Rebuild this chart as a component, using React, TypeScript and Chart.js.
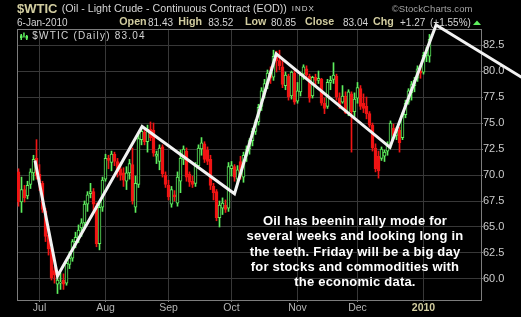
import React, { useEffect, useRef } from "react";
import { Chart, registerables } from "chart.js";

Chart.register(...registerables);

// Daily OHLC for $WTIC, 22-Jun-2009 .. 6-Jan-2010 (trading-day index 0..137)
const opens = [
  70.3, 67.4, 68.6, 68.0, 69.1, 70.2, 71.6, 70.1, 69.2, 66.5,
  64.2, 63.0, 60.8, 59.5, 59.6, 59.9, 59.6, 61.4, 62.0, 63.6,
  64.0, 64.9, 65.4, 67.2, 68.2, 68.4, 67.0, 63.4, 66.9, 69.6,
  71.6, 71.2, 72.0, 71.3, 70.6, 70.2, 69.4, 70.2, 71.0, 66.9,
  69.1, 73.4, 74.1, 73.2, 74.4, 74.3, 71.8, 71.3, 72.7, 70.0,
  69.0, 67.2, 68.1, 67.3, 69.4, 71.5, 72.3, 70.1, 69.4, 69.2,
  70.9, 72.5, 73.0, 72.4, 71.5, 68.9, 68.4, 65.9, 66.8, 67.1,
  66.8, 70.6, 70.8, 69.6, 71.3, 69.8, 71.8, 72.5, 73.3, 74.2,
  75.1, 76.6, 78.0, 78.9, 79.8, 79.4, 81.5, 81.0, 80.4, 78.6,
  79.5, 77.6, 79.8, 77.1, 78.0, 79.7, 80.2, 79.5, 77.6, 79.4,
  79.1, 79.2, 76.9, 76.6, 78.9, 79.2, 79.5, 77.4, 77.0, 77.6,
  76.0, 77.8, 76.1, 77.4, 78.3, 76.9, 76.6, 75.9, 74.8, 72.6,
  71.8, 71.6, 71.8, 72.3, 72.8, 74.5, 73.8, 74.3, 73.6, 75.8,
  77.0, 77.9, 78.6, 79.3, 80.0, 79.9, 81.5, 81.43,
];
const highs = [
  70.6, 69.8, 69.0, 69.4, 70.6, 71.9, 73.4, 71.0, 69.4, 66.8,
  64.6, 63.2, 61.2, 60.4, 60.6, 60.5, 61.9, 62.6, 63.8, 64.5,
  65.2, 65.8, 67.5, 68.4, 69.2, 68.7, 67.3, 67.3, 69.8, 72.0,
  71.9, 72.3, 72.2, 71.6, 71.2, 70.7, 70.8, 71.5, 72.6, 69.9,
  73.9, 74.6, 74.5, 74.8, 75.1, 75.0, 72.3, 72.9, 72.9, 70.3,
  69.5, 68.9, 68.5, 70.3, 72.4, 72.8, 72.6, 70.3, 69.9, 71.2,
  72.9, 73.6, 73.2, 72.7, 71.9, 69.2, 68.6, 67.5, 67.8, 67.6,
  71.2, 71.3, 71.0, 70.9, 71.8, 72.2, 72.8, 73.5, 74.5, 75.3,
  76.8, 78.4, 79.2, 80.1, 80.4, 82.0, 81.9, 82.0, 81.1, 79.9,
  79.7, 80.0, 80.1, 78.9, 79.8, 80.6, 80.5, 79.7, 79.5, 79.7,
  80.0, 79.3, 77.4, 79.2, 79.5, 80.8, 79.7, 77.9, 78.6, 78.0,
  78.2, 78.0, 77.9, 78.9, 78.6, 77.8, 77.5, 76.1, 75.0, 73.0,
  72.3, 72.7, 72.4, 73.2, 75.2, 74.9, 74.6, 74.6, 76.0, 77.2,
  78.3, 79.0, 79.4, 80.5, 80.6, 81.8, 82.3, 83.52,
];
const lows = [
  67.0, 66.4, 67.4, 67.7, 68.7, 69.5, 69.6, 68.5, 66.4, 63.6,
  62.3, 59.9, 59.6, 58.6, 59.0, 59.0, 59.4, 61.0, 61.7, 63.0,
  63.5, 64.1, 64.9, 66.5, 67.8, 66.6, 63.1, 62.8, 66.5, 69.4,
  70.6, 70.4, 70.9, 69.8, 69.5, 68.9, 68.6, 69.6, 67.2, 66.4,
  68.8, 72.9, 72.9, 72.2, 73.3, 71.8, 71.1, 70.5, 69.8, 68.8,
  67.6, 66.9, 67.5, 67.0, 68.3, 71.0, 69.4, 68.9, 68.8, 68.9,
  70.6, 71.9, 71.2, 71.0, 68.6, 67.6, 65.6, 65.0, 66.2, 66.4,
  66.5, 69.9, 69.4, 69.2, 69.6, 69.3, 71.3, 72.0, 72.8, 73.9,
  74.8, 76.2, 77.4, 78.3, 78.8, 79.1, 79.9, 80.1, 78.4, 78.2,
  77.2, 77.3, 76.8, 76.9, 77.6, 79.2, 79.3, 77.0, 77.4, 78.6,
  78.8, 76.7, 75.9, 76.4, 78.2, 78.8, 77.2, 76.4, 76.9, 75.9,
  75.7, 72.2, 75.6, 76.9, 76.3, 76.0, 75.4, 74.6, 72.3, 70.3,
  69.7, 71.4, 71.3, 71.9, 72.6, 73.5, 73.4, 72.2, 73.4, 75.5,
  76.8, 77.2, 78.0, 79.0, 79.3, 79.7, 80.9, 80.85,
];
const closes = [
  67.4, 68.6, 67.8, 69.0, 70.3, 71.5, 69.9, 69.3, 66.7, 64.1,
  62.9, 60.1, 60.4, 59.9, 59.7, 59.5, 61.5, 62.0, 63.6, 64.0,
  64.7, 65.4, 67.2, 68.1, 68.4, 67.2, 63.4, 66.9, 69.5, 71.6,
  71.4, 72.0, 71.3, 70.3, 70.0, 69.5, 70.2, 71.1, 67.5, 69.2,
  73.5, 74.2, 73.2, 74.4, 73.6, 72.1, 72.0, 72.6, 70.1, 69.1,
  67.9, 68.6, 67.9, 69.8, 71.6, 72.5, 69.8, 69.3, 69.1, 70.9,
  72.6, 73.1, 71.5, 71.3, 69.0, 68.3, 65.9, 67.1, 67.3, 66.7,
  70.8, 70.9, 69.8, 70.5, 69.9, 71.9, 72.5, 73.3, 74.2, 75.1,
  76.5, 78.1, 78.8, 79.8, 79.3, 81.4, 81.0, 80.5, 78.7, 79.6,
  77.5, 79.9, 77.0, 78.1, 79.6, 80.4, 79.6, 77.4, 79.4, 79.1,
  79.3, 76.9, 76.4, 78.9, 79.1, 79.6, 77.5, 76.7, 77.6, 76.0,
  78.0, 76.1, 77.3, 78.4, 76.6, 76.4, 75.9, 74.8, 72.6, 70.6,
  70.4, 72.5, 72.2, 72.9, 75.0, 73.8, 74.4, 73.1, 75.8, 76.9,
  78.1, 78.7, 79.1, 80.2, 79.8, 81.5, 81.77, 83.04,
];

const monthTickIndex = [7, 29, 50, 71, 93, 113, 135];
const monthTickLabels = ["Jul", "Aug", "Sep", "Oct", "Nov", "Dec", "2010"];
const yTickValues = [60, 62.5, 65, 67.5, 70, 72.5, 75, 77.5, 80, 82.5];

// hand-drawn trend line vertices (trading-day index, price)
const trendIndex = [5.5, 13, 41.2, 72, 85.9, 123.8, 139.2, 167.7];
const trendValue = [71.4, 60.3, 74.67, 68.2, 81.64, 72.66, 84.42, 79.4];

const annotationLines = [
  "Oil has beenin rally mode for",
  "several weeks and looking long in",
  "the teeth. Friday will be a big day",
  "for stocks and commodities with",
  "the economic data.",
];

const quoteLabels = ["Open", "High", "Low", "Close", "Chg"];
const quoteValues = ["81.43", "83.52", "80.85", "83.04", "+1.27"];

const FONT = '"Liberation Sans", Arial, sans-serif';
const GREEN = "#5ef05e";
const RED = "#f01414";
const KHAKI = "#d2cda0";
const LIGHT = "#d4d4d4";

function T(props: {
  x: number;
  b: number;
  size: number;
  bold?: boolean;
  color: string;
  ls?: number;
  children: React.ReactNode;
}) {
  const { x, b, size, bold, color, ls, children } = props;
  return (
    <div
      style={{
        position: "absolute",
        left: x,
        top: b - 0.905 * size,
        fontFamily: FONT,
        fontSize: size,
        fontWeight: bold ? 700 : 400,
        color,
        lineHeight: `${1.117 * size}px`,
        whiteSpace: "nowrap",
        letterSpacing: ls ? `${ls}px` : undefined,
      }}
    >
      {children}
    </div>
  );
}

export default function App() {
  const ref = useRef<HTMLCanvasElement>(null);

  useEffect(() => {
    const canvas = ref.current;
    if (!canvas) return;
    const idx = closes.map((_, i) => i);
    const up = idx.map((i) => closes[i] >= opens[i]);

    const frame = {
      id: "frame",
      beforeDatasetsDraw(chart: any) {
        const { ctx, chartArea: a } = chart;
        ctx.save();
        ctx.strokeStyle = "#7c7c7c";
        ctx.lineWidth = 1;
        ctx.strokeRect(a.left + 0.5, a.top + 0.5, a.right - a.left, a.bottom - a.top);
        ctx.restore();
      },
    };

    const chart = new Chart(canvas, {
      type: "bar",
      data: {
        datasets: [
          {
            type: "line",
            data: trendIndex.map((x, k) => ({ x, y: trendValue[k] })),
            borderColor: "#f2f2f2",
            borderWidth: 3,
            pointRadius: 0,
            tension: 0,
            clip: false,
            order: 0,
          } as any,
          {
            type: "bar",
            data: idx.map((i) => ({ x: i, y: [opens[i], closes[i]] })),
            backgroundColor: idx.map((i) => (up[i] ? "#000000" : RED)),
            borderColor: idx.map((i) => (up[i] ? GREEN : RED)),
            borderWidth: 1,
            borderSkipped: false,
            barThickness: 3,
            minBarLength: 1,
            grouped: false,
            order: 1,
          } as any,
          {
            type: "bar",
            data: idx.map((i) => ({ x: i, y: [lows[i], highs[i]] })),
            backgroundColor: idx.map((i) => (up[i] ? GREEN : RED)),
            borderWidth: 0,
            barThickness: 1,
            grouped: false,
            order: 2,
          } as any,
        ],
      },
      options: {
        responsive: false,
        animation: false,
        devicePixelRatio: 1,
        events: [],
        layout: { padding: { left: 17, top: 29, right: 0, bottom: 0 } },
        plugins: { legend: { display: false }, tooltip: { enabled: false } },
        scales: {
          x: {
            type: "linear",
            min: -0.5,
            max: 154.1667,
            bounds: "data",
            offset: false,
            afterBuildTicks: (s: any) => {
              s.ticks = monthTickIndex.map((v) => ({ value: v }));
            },
            afterFit: (s: any) => {
              s.height = 17;
            },
            grid: { color: "#383838", tickColor: "#7c7c7c", tickLength: 2, offset: false },
            border: { display: false },
            ticks: {
              autoSkip: false,
              maxRotation: 0,
              padding: 0,
              callback: (v: any) => {
                const k = monthTickIndex.indexOf(Number(v));
                return k >= 0 ? monthTickLabels[k] : "";
              },
              color: (c: any) => (c.tick && c.tick.value === 135 ? KHAKI : "#b4b4b4"),
              font: (c: any) =>
                c.tick && c.tick.value === 135
                  ? { family: FONT, size: 10.5, weight: "bold" }
                  : { family: FONT, size: 10.5 },
            },
          } as any,
          y: {
            type: "linear",
            position: "right",
            min: 57.98,
            max: 84.04,
            bounds: "data",
            afterBuildTicks: (s: any) => {
              s.ticks = yTickValues.map((v) => ({ value: v }));
            },
            afterFit: (s: any) => {
              s.width = 40;
            },
            grid: { color: "#383838", tickColor: "#7c7c7c", tickLength: 2 },
            border: { display: false },
            ticks: {
              autoSkip: false,
              padding: 0,
              callback: (v: any) => Number(v).toFixed(1),
              color: "#cccccc",
              font: { family: FONT, size: 11 },
            },
          } as any,
        },
      },
      plugins: [frame],
    } as any);

    return () => chart.destroy();
  }, []);

  const labelX = [119.3, 178.3, 245, 305, 373];
  const valueX = [148, 208.3, 271, 343, 400];

  return (
    <div
      style={{
        position: "fixed",
        left: 0,
        top: 0,
        width: 521,
        height: 317,
        background: "#000",
        overflow: "hidden",
      }}
    >
      <canvas ref={ref} width={521} height={317} style={{ position: "absolute", left: 0, top: 0 }} />

      <T x={17} b={13.4} size={13} bold color={KHAKI}>$WTIC</T>
      <T x={61.7} b={12.8} size={10.7} color={LIGHT}>(Oil - Light Crude - Continuous Contract (EOD))</T>
      <T x={291.7} b={12.3} size={8} color={LIGHT} ls={1}>INDX</T>
      <T x={391.7} b={12.7} size={9.5} color="#a4a4a4" ls={0.1}>©StockCharts.com</T>

      <T x={17} b={26} size={10} color={LIGHT}>6-Jan-2010</T>
      {quoteLabels.map((label, k) => (
        <React.Fragment key={label}>
          <T x={labelX[k]} b={26} size={10.7} bold color={KHAKI}>{label}</T>
          <T x={valueX[k]} b={26} size={10} color={LIGHT}>{quoteValues[k]}</T>
        </React.Fragment>
      ))}
      <T x={430} b={26} size={10} color={LIGHT}>(+1.55%)</T>
      <svg width={8} height={6} style={{ position: "absolute", left: 473, top: 20 }}>
        <polygon points="0,5 4,0.5 8,5" fill={GREEN} />
      </svg>

      <svg width={10} height={9} style={{ position: "absolute", left: 20, top: 31.5 }}>
        <rect x={0.5} y={2} width={1.5} height={6} fill={GREEN} />
        <rect x={3.2} y={0.5} width={1.5} height={5} fill={GREEN} />
        <rect x={6} y={3} width={1.5} height={5} fill={GREEN} />
        <rect x={0} y={3.5} width={2.5} height={2.5} fill={GREEN} />
        <rect x={5.5} y={4} width={2.5} height={2.5} fill={GREEN} />
      </svg>
      <T x={32.3} b={39.3} size={10} color={LIGHT} ls={1.2}>$WTIC (Daily) 83.04</T>

      <div
        style={{
          position: "absolute",
          left: 205,
          top: 213.2,
          width: 300,
          textAlign: "center",
          fontFamily: FONT,
          fontSize: 13,
          fontWeight: 700,
          lineHeight: "15.2px",
          letterSpacing: "0.2px",
          color: "#ffffff",
          whiteSpace: "nowrap",
        }}
      >
        {annotationLines.map((l) => (
          <div key={l}>{l}</div>
        ))}
      </div>
    </div>
  );
}
